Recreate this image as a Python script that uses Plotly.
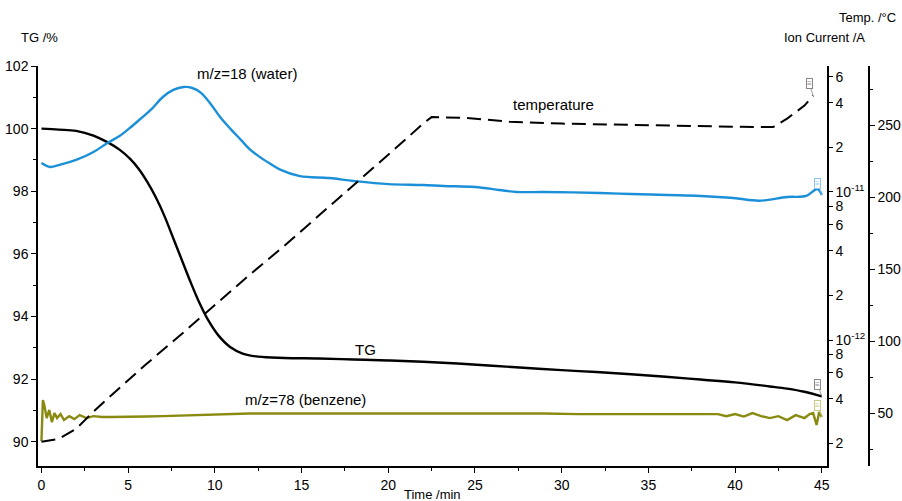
import math
import plotly.graph_objects as go

# ---- TG mass curve (%), left axis ----
tg_time = [0, 1, 2, 3, 3.8, 4.5, 5.1, 5.6, 6.1, 6.6, 7.1, 7.6, 8.1, 8.6, 9.1, 9.6,
           10.2, 10.9, 11.6, 12.5, 14, 16, 18, 20, 22, 24, 26, 28, 30, 32, 34, 36,
           38, 40, 42, 43, 44, 45]
tg_mass = [100.0, 99.97, 99.93, 99.78, 99.57, 99.33, 99.04, 98.72, 98.3, 97.8, 97.2,
           96.5, 95.8, 95.1, 94.45, 93.9, 93.4, 93.02, 92.82, 92.72, 92.68, 92.66,
           92.63, 92.6, 92.56, 92.5, 92.43, 92.36, 92.29, 92.23, 92.16, 92.08, 91.99,
           91.9, 91.77, 91.7, 91.6, 91.45]

# ---- m/z=18 ion current (A), log axis ----
water_time = [0, 0.5, 1, 2, 3, 3.8, 4.5, 5.1, 5.7, 6.3, 7.0, 7.6, 8.2, 8.7, 9.2, 9.8,
              10.3, 10.9, 11.5, 12.0, 12.6, 13.2, 13.8, 14.9, 16.6, 18, 20, 22, 23.2,
              25, 26.4, 27.4, 29, 32.2, 34, 36.1, 38, 39.9, 41.4, 43, 44.1, 44.75, 45]
water_current = [1.57e-11, 1.476e-11, 1.52e-11, 1.645e-11, 1.864e-11, 2.14e-11,
                 2.39e-11, 2.71e-11, 3.11e-11, 3.58e-11, 4.38e-11, 4.89e-11, 5.12e-11,
                 5.04e-11, 4.67e-11, 3.87e-11, 3.21e-11, 2.67e-11, 2.25e-11, 1.95e-11,
                 1.72e-11, 1.55e-11, 1.41e-11, 1.28e-11, 1.243e-11, 1.187e-11, 1.13e-11,
                 1.115e-11, 1.098e-11, 1.081e-11, 1.032e-11, 1.0e-11, 1.0e-11, 0.985e-11,
                 0.969e-11, 0.954e-11, 0.94e-11, 0.911e-11, 0.873e-11, 0.925e-11,
                 0.94e-11, 1.048e-11, 0.954e-11]

# ---- m/z=78 ion current (A), log axis ----
benzene_time = [0, 0.08, 0.15, 0.3, 0.45, 0.6, 0.75, 0.9, 1.1, 1.3, 1.6, 1.9, 2.2, 2.6,
                3.0, 3.5, 4, 5, 6, 7, 8, 9, 10, 11, 12, 14, 16, 18, 20, 22, 24, 25.5,
                27, 29, 31, 33, 35, 37, 38, 39, 39.5, 40, 40.5, 41, 41.5, 42, 42.5, 43,
                43.5, 44, 44.3, 44.5, 44.7, 44.85, 45]
benzene_current = [2.08e-13, 3.93e-13, 3.70e-13, 2.97e-13, 3.37e-13, 2.79e-13,
                   3.21e-13, 2.97e-13, 3.16e-13, 2.88e-13, 3.06e-13, 2.92e-13,
                   3.11e-13, 2.97e-13, 3.06e-13, 3.02e-13, 3.02e-13, 3.02e-13,
                   3.04e-13, 3.06e-13, 3.09e-13, 3.11e-13, 3.16e-13, 3.19e-13,
                   3.19e-13, 3.19e-13, 3.19e-13, 3.21e-13, 3.21e-13, 3.21e-13,
                   3.21e-13, 3.21e-13, 3.19e-13, 3.19e-13, 3.16e-13, 3.16e-13,
                   3.16e-13, 3.14e-13, 3.16e-13, 3.16e-13, 3.06e-13, 3.16e-13,
                   3.04e-13, 3.21e-13, 3.06e-13, 2.97e-13, 3.06e-13, 2.88e-13,
                   3.11e-13, 2.97e-13, 3.16e-13, 3.21e-13, 2.67e-13, 3.26e-13,
                   3.02e-13]

# ---- furnace temperature (°C), outer right axis ----
temp_time = [0, 1, 2, 3, 4, 5, 6, 8, 10, 12, 14, 16, 18, 20, 21, 22, 22.5, 24.5,
             27, 30, 32, 36, 40, 42.2, 43, 44, 44.5]
temperature = [30, 32, 39, 51, 62, 73, 83.5, 104, 125, 146, 166, 187, 208, 229, 240,
               251, 255.5, 255, 252.3, 251, 250.5, 249.5, 248.8, 248.6, 254.5, 263.5,
               270.5]

# ion-current tick labels (log axis)
ion_tickvals = [6e-11, 4e-11, 2e-11, 1e-11, 8e-12, 6e-12, 4e-12, 2e-12, 1e-12,
                8e-13, 6e-13, 4e-13, 2e-13]
ion_ticktext = ["6", "4", "2", "10<sup>-11</sup>", "8", "6", "4", "2",
                "10<sup>-12</sup>", "8", "6", "4", "2"]

BLUE = "#1b90d8"
OLIVE = "#8a8a10"
FONT = "Liberation Sans, Arial, sans-serif"

fig = go.Figure()
fig.add_trace(go.Scatter(x=water_time, y=water_current, yaxis="y2", mode="lines",
                         line=dict(color=BLUE, width=2.4), line_shape="spline"))
fig.add_trace(go.Scatter(x=benzene_time, y=benzene_current, yaxis="y2", mode="lines",
                         line=dict(color=OLIVE, width=2.4)))
fig.add_trace(go.Scatter(x=temp_time, y=temperature, yaxis="y3", mode="lines",
                         line=dict(color="black", width=2, dash="14px,7px")))
fig.add_trace(go.Scatter(x=tg_time, y=tg_mass, yaxis="y", mode="lines",
                         line=dict(color="black", width=2.4), line_shape="spline"))

axis_common = dict(showline=True, linecolor="black", linewidth=1.5, ticks="outside",
                   tickcolor="black", ticklen=5, showgrid=False, zeroline=False,
                   automargin=False,
                   tickfont=dict(family=FONT, size=14, color="black"))

L, R, T, B = 38, 20, 66, 35
W, H = 902, 501
pw = W - L - R
x_end = (827 - L) / pw
temp_pos = (869 - L) / pw

fig.update_layout(
    width=W, height=H,
    margin=dict(l=L, r=R, t=T, b=B, autoexpand=False),
    paper_bgcolor="white", plot_bgcolor="white",
    showlegend=False,
    font=dict(family=FONT, size=13, color="black"),
    xaxis=dict(axis_common, domain=[0, x_end], range=[-0.2, 45.3],
               tickvals=list(range(0, 46, 5)),
               minor=dict(dtick=2.5, ticks="outside", ticklen=3, tickcolor="black")),
    yaxis=dict(axis_common, range=[89.23, 102], dtick=2, tick0=90,
               minor=dict(dtick=1, ticks="outside", ticklen=3, tickcolor="black")),
    yaxis2=dict(axis_common, type="log", overlaying="y", side="right", anchor="x",
                range=[-12.851, -10.149], tickvals=ion_tickvals, ticktext=ion_ticktext,
                ticklen=4),
    yaxis3=dict(axis_common, overlaying="y", side="right", anchor="free",
                position=temp_pos, range=[13.2, 291], tickvals=[50, 100, 150, 200, 250],
                minor=dict(dtick=25, ticks="outside", ticklen=3, tickcolor="black")),
)

def paper_x(px):
    return (px - L) / pw

def paper_y(py):
    return (H - B - py) / (H - T - B)

title_font = dict(family=FONT, size=13, color="black")
label_font = dict(family=FONT, size=15, color="black")

# axis titles
fig.add_annotation(text="TG /%", xref="paper", yref="paper", x=paper_x(19), y=paper_y(37),
                   xanchor="left", yanchor="middle", showarrow=False, font=title_font)
fig.add_annotation(text="Temp. /°C", xref="paper", yref="paper", x=paper_x(898),
                   y=paper_y(18), xanchor="right", yanchor="middle", showarrow=False,
                   font=title_font)
fig.add_annotation(text="Ion Current /A", xref="paper", yref="paper", x=paper_x(867),
                   y=paper_y(37), xanchor="right", yanchor="middle", showarrow=False,
                   font=title_font)
fig.add_annotation(text="Time /min", xref="paper", yref="paper", x=paper_x(432),
                   y=paper_y(494), xanchor="center", yanchor="middle", showarrow=False,
                   font=title_font)

# curve labels
fig.add_annotation(text="m/z=18 (water)", x=11.87, y=101.76, xref="x", yref="y",
                   showarrow=False, font=label_font)
fig.add_annotation(text="temperature", x=29.5, y=100.77, xref="x", yref="y",
                   showarrow=False, font=label_font)
fig.add_annotation(text="TG", x=18.67, y=92.95, xref="x", yref="y",
                   showarrow=False, font=label_font)
fig.add_annotation(text="m/z=78 (benzene)", x=15.2, y=91.34, xref="x", yref="y",
                   showarrow=False, font=label_font)

# small end-of-curve tags
def end_tag(xv, yv, yref, color):
    fig.add_annotation(x=xv, y=yv, xref="x", yref=yref, text="≡",
                       font=dict(family=FONT, size=8, color=color), bordercolor=color,
                       borderwidth=1, borderpad=0, bgcolor="white",
                       showarrow=True, arrowhead=0, arrowwidth=0.8, arrowcolor=color,
                       ax=-4, ay=-12, standoff=0)

end_tag(temp_time[-1], temperature[-1], "y3", "#888888")
end_tag(water_time[-1], math.log10(water_current[-1]), "y2", "#8cc8ee")
end_tag(tg_time[-1], tg_mass[-1], "y", "#888888")
end_tag(benzene_time[-1], math.log10(benzene_current[-1]), "y2", "#c8c880")

fig.write_html("out.html")
